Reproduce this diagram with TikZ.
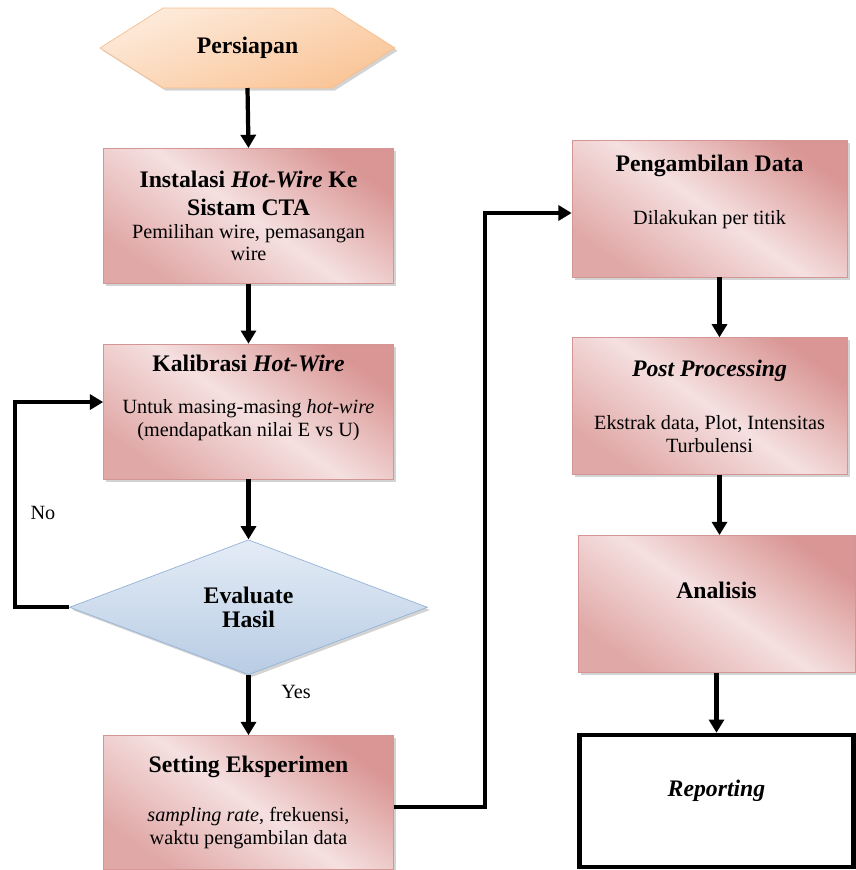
\documentclass[tikz,border=0pt]{standalone}
\usepackage{fontspec}
\setmainfont{Liberation Serif}
\definecolor{roseLight}{RGB}{245,224,224}
\definecolor{roseDark}{RGB}{217,150,148}
\definecolor{roseEdge}{RGB}{212,150,148}
\definecolor{peachLight}{RGB}{253,235,220}
\definecolor{peachDark}{RGB}{250,196,150}
\definecolor{peachEdge}{RGB}{246,190,140}
\definecolor{skyLight}{RGB}{228,236,246}
\definecolor{skyDark}{RGB}{184,204,228}
\definecolor{skyEdge}{RGB}{149,179,215}
\usetikzlibrary{positioning, calc, shapes.geometric, arrows.meta, backgrounds, shadows}
\newcommand{\boxhead}[1]{{\fontsize{13.5}{15}\selectfont\bfseries #1}}

\begin{document}
\begin{tikzpicture}[
    node distance=1.2cm,
    every node/.style={font=\fontsize{11.5}{13}\selectfont},
    softshadow/.style={drop shadow={shadow xshift=1.5pt, shadow yshift=-1.5pt,
                       opacity=0.35}},
    procbox/.style={rectangle, draw=roseEdge, thin, softshadow,
                    top color=roseDark, bottom color=roseDark!75!roseLight,
                    middle color=roseLight, shading angle=-35,
                    minimum width=5.8cm, minimum height=2.7cm, align=center,
                    inner sep=2pt},
    hexnode/.style={rectangle, minimum width=5.9cm, minimum height=1.6cm,
                    inner sep=0pt, outer sep=0pt},
    hexfill/.style={draw=peachEdge, thin, softshadow, top color=peachLight,
                    bottom color=peachDark, shading angle=20},
    decision/.style={diamond, draw=skyEdge, thin, softshadow,
                     top color=skyLight, bottom color=skyDark,
                     minimum width=7.16cm, minimum height=2.7cm, align=center,
                     inner sep=0pt},
    endbox/.style={rectangle, draw=black, line width=2.6pt, fill=white,
                   minimum width=5.48cm, minimum height=2.64cm, align=center},
    flow/.style={-{Triangle[length=7.5pt,width=8.5pt]}, line width=2.4pt},
  ]
    \useasboundingbox (0,0) rectangle (17.12,-17.4);

    % left column
    \node[hexnode] (persiapan) at (4.95,-0.96) {\boxhead{Persiapan}};
    \begin{scope}[on background layer]
      \path[hexfill] (persiapan.west)
        -- ([xshift=1.26cm]persiapan.north west)
        -- ([xshift=-1.26cm]persiapan.north east)
        -- (persiapan.east)
        -- ([xshift=-1.26cm]persiapan.south east)
        -- ([xshift=1.26cm]persiapan.south west) -- cycle;
    \end{scope}

    \node[procbox, below=of persiapan, xshift=0.02cm] (instalasi)
      {\boxhead{Instalasi \textit{Hot-Wire} Ke}\\[3pt]\boxhead{Sistam CTA}\\
       Pemilihan wire, pemasangan\\wire};
    \node[procbox, below=of instalasi] (kalibrasi)
      {\boxhead{Kalibrasi \textit{Hot-Wire}}\\[11pt]
       Untuk masing-masing \textit{hot-wire}\\(mendapatkan nilai E vs U)\\[5pt]\mbox{}};
    \node[decision, below=of kalibrasi] (evaluasi)
      {\boxhead{Evaluate}\\[1pt]\boxhead{Hasil}};
    \node[procbox, below=of evaluasi, minimum height=2.68cm] (setting)
      {\boxhead{Setting Eksperimen}\\[15pt]
       \textit{sampling rate}, frekuensi,\\waktu pengambilan data};

    % right column
    \node[procbox, minimum width=5.5cm, minimum height=2.74cm] (data) at (14.19,-4.17)
      {\boxhead{Pengambilan Data}\\[17pt]Dilakukan per titik\\[8pt]\mbox{}};
    \node[procbox, minimum width=5.5cm, minimum height=2.74cm, below=of data] (post)
      {\boxhead{\textit{Post Processing}}\\[17pt]
       Ekstrak data, Plot, Intensitas\\Turbulensi};
    \node[procbox, minimum width=5.54cm, minimum height=2.74cm, below=of post,
          xshift=0.14cm] (analisis)
      {\boxhead{Analisis}\\[2pt]\mbox{}};
    \node[endbox, below=of analisis] (reporting)
      {\boxhead{\textit{Reporting}}\\[2pt]\mbox{}};

    % labels
    \node (no) at (0.86,-10.26) {No};
    \node (yes) at (5.92,-13.84) {Yes};

    % connectors
    \draw[flow] (persiapan.south) -- (instalasi.north);
    \draw[flow] (instalasi) -- (kalibrasi);
    \draw[flow] (kalibrasi) -- (evaluasi);
    \draw[flow] (evaluasi) -- (setting);
    \draw[flow] (evaluasi.west) -- ++(-1.09,0) |- ([yshift=0.19cm]kalibrasi.west);
    \draw[flow] ([yshift=-0.09cm]setting.east) -- ++(1.83,0)
      |- ([yshift=-0.09cm]data.west);
    \draw[flow] ([xshift=0.2cm]data.south) -- ([xshift=0.2cm]data.south |- post.north);
    \draw[flow] ([xshift=0.2cm]post.south) -- ([xshift=0.2cm]post.south |- analisis.north);
    \draw[flow] (analisis) -- (reporting);
  \end{tikzpicture}
\end{document}
